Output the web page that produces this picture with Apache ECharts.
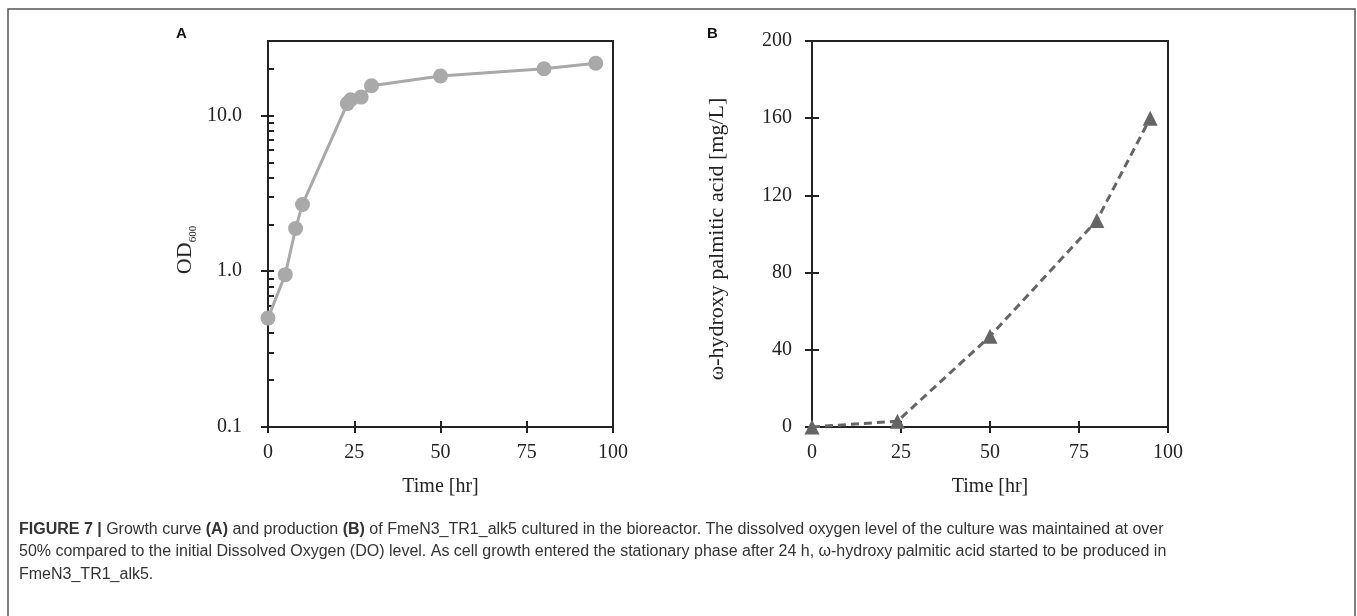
<!DOCTYPE html>
<html>
<head>
<meta charset="utf-8">
<script src="https://cdn.jsdelivr.net/npm/echarts@6/dist/echarts.min.js"></script>
<style>
html,body{margin:0;padding:0;background:#fff;}
#chart{width:1357px;height:616px;}
</style>
</head>
<body>
<div id="chart"></div>
<script>
// ---- data ----
const timeA = [0, 5, 8, 10, 23, 24, 27, 30, 50, 80, 95];
const od600 = [0.5, 0.95, 1.88, 2.68, 11.9, 12.6, 13.1, 15.5, 17.9, 19.9, 21.6];
const timeB = [0, 24, 50, 80, 95];
const hydroxyPA = [0, 3, 47, 107, 160];
const logMajorTicks = [0.1, 1, 10];
const logMinorTicks = [0.2,0.3,0.4,0.5,0.6,0.7,0.8,0.9,2,3,4,5,6,7,8,9,20];

const serif = '"Liberation Serif", "DejaVu Serif", serif';
const sans = '"Liberation Sans", Arial, sans-serif';
const ink = '#222';

const chart = echarts.init(document.getElementById('chart'), null, {renderer: 'canvas'});

const lbl = {fontFamily: serif, fontSize: 20, color: ink};

function xMain(grid) {
  return {
    type: 'value', gridIndex: grid, min: 0, max: 100, interval: 25, position: 'bottom',
    axisLine: {show: true, onZero: false, lineStyle: {color: ink, width: 2}},
    axisTick: {show: true, inside: false, length: 6, lineStyle: {color: ink, width: 2}},
    axisLabel: Object.assign({margin: 16}, lbl),
    splitLine: {show: false},
    name: 'Time [hr]', nameLocation: 'middle', nameGap: 50,
    nameTextStyle: {fontFamily: serif, fontSize: 20, color: ink}
  };
}
function xInner(grid) {
  return {
    type: 'value', gridIndex: grid, min: 0, max: 100, interval: 25, position: 'bottom',
    axisLine: {show: false, onZero: false},
    axisTick: {show: true, inside: true, length: 6, lineStyle: {color: ink, width: 2}},
    axisLabel: {show: false}, splitLine: {show: false}
  };
}

const option = {
  animation: false,
  backgroundColor: '#fff',
  grid: [
    {left: 268, top: 41, width: 345, height: 386, show: true, borderColor: ink, borderWidth: 2, backgroundColor: 'transparent'},
    {left: 812, top: 41, width: 356, height: 386, show: true, borderColor: ink, borderWidth: 2, backgroundColor: 'transparent'}
  ],
  xAxis: [xMain(0), xInner(0), xMain(1), xInner(1)],
  yAxis: [
    {
      type: 'log', gridIndex: 0, position: 'left', min: 0.1, max: 30, logBase: 10,
      axisLine: {show: true, onZero: false, lineStyle: {color: ink, width: 2}},
      axisTick: {show: true, inside: false, length: 7, customValues: logMajorTicks, lineStyle: {color: ink, width: 2}},
      axisLabel: Object.assign({margin: 26, customValues: logMajorTicks, formatter: v => Number(v).toFixed(1)}, lbl),
      splitLine: {show: false},
      name: '{a|OD}{b|600}', nameLocation: 'middle', nameRotate: 90, nameGap: 72,
      nameTextStyle: {
        padding: [0, 32, 0, 0],
        rich: {
          a: {fontFamily: serif, fontSize: 22, color: ink, lineHeight: 24, verticalAlign: 'bottom'},
          b: {fontFamily: serif, fontSize: 11, color: ink, lineHeight: 24, verticalAlign: 'bottom', padding: [0, 0, -3, 0]}
        }
      }
    },
    {
      type: 'log', gridIndex: 0, position: 'left', min: 0.1, max: 30, logBase: 10,
      axisLine: {show: false, onZero: false},
      axisTick: {show: true, inside: true, length: 6, customValues: logMajorTicks.concat(logMinorTicks), lineStyle: {color: ink, width: 2}},
      axisLabel: {show: false}, splitLine: {show: false}
    },
    {
      type: 'value', gridIndex: 1, position: 'left', min: 0, max: 200, interval: 40,
      axisLine: {show: true, onZero: false, lineStyle: {color: ink, width: 2}},
      axisTick: {show: true, inside: false, length: 7, lineStyle: {color: ink, width: 2}},
      axisLabel: Object.assign({margin: 20}, lbl),
      splitLine: {show: false},
      name: 'ω-hydroxy palmitic acid [mg/L]', nameLocation: 'middle', nameRotate: 90, nameGap: 84,
      nameTextStyle: {fontFamily: serif, fontSize: 22, color: ink, padding: [0, 10, 0, 0]}
    },
    {
      type: 'value', gridIndex: 1, position: 'left', min: 0, max: 200, interval: 40,
      axisLine: {show: false, onZero: false},
      axisTick: {show: true, inside: true, length: 7, lineStyle: {color: ink, width: 2}},
      axisLabel: {show: false}, splitLine: {show: false}
    }
  ],
  series: [
    {
      type: 'line', xAxisIndex: 0, yAxisIndex: 0,
      data: timeA.map((t, i) => [t, od600[i]]),
      symbol: 'circle', symbolSize: 15,
      lineStyle: {color: '#a9a9a9', width: 3},
      itemStyle: {color: '#a9a9a9'},
      z: 5
    },
    {
      type: 'line', xAxisIndex: 2, yAxisIndex: 2,
      data: timeB.map((t, i) => [t, hydroxyPA[i]]),
      symbol: 'triangle', symbolSize: 15,
      lineStyle: {color: '#656565', width: 3, type: [8, 5]},
      itemStyle: {color: '#656565'},
      z: 5
    }
  ],
  graphic: [
    {type: 'rect', shape: {x: 8, y: 9, width: 1347, height: 640}, style: {fill: 'none', stroke: '#555', lineWidth: 1.5}, silent: true},
    {type: 'text', x: 176, y: 26, style: {text: 'A', font: 'bold 15px ' + sans, fill: '#111'}},
    {type: 'text', x: 707, y: 26, style: {text: 'B', font: 'bold 15px ' + sans, fill: '#111'}},
    {
      type: 'text', x: 19, y: 518,
      style: {
        text: '{b|FIGURE 7 |} Growth curve {b|(A)} and production {b|(B)} of FmeN3_TR1_alk5 cultured in the bioreactor. The dissolved oxygen level of the culture was maintained at over\n' +
              '50% compared to the initial Dissolved Oxygen (DO) level. As cell growth entered the stationary phase after 24 h, \u03c9-hydroxy palmitic acid started to be produced in\n' +
              'FmeN3_TR1_alk5.',
        font: '16px ' + sans, fill: '#333', lineHeight: 22.5,
        rich: {
          b: {fontFamily: sans, fontSize: 16, fontWeight: 'bold', fill: '#333', lineHeight: 22.5}
        }
      }
    }
  ]
};

chart.setOption(option);
</script>
</body>
</html>
